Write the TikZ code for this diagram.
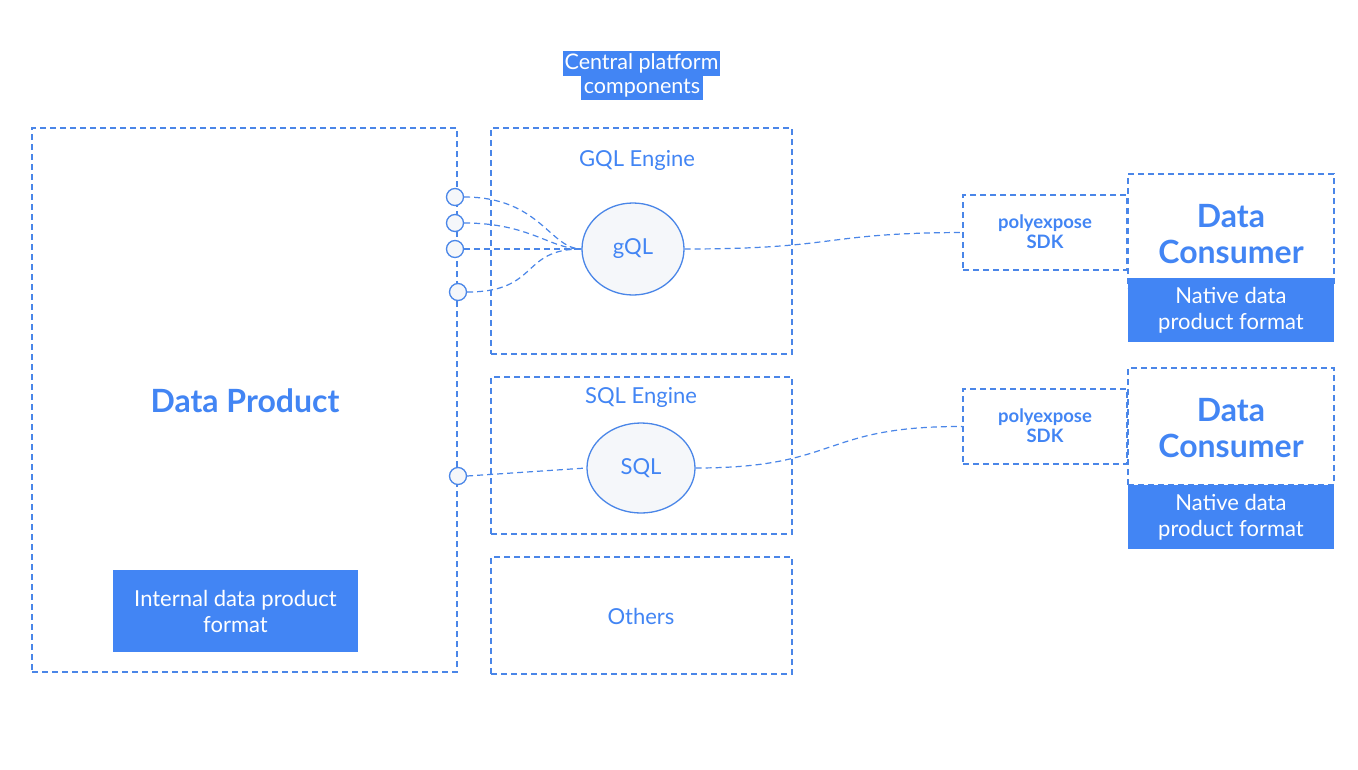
\documentclass[tikz,border=0pt]{standalone}
\usepackage{fontspec}
\setmainfont{Lato}
\usetikzlibrary{shapes.geometric}
\definecolor{gblue}{HTML}{4285F4}
\definecolor{lblue}{HTML}{4A86E8}
\definecolor{efill}{HTML}{F5F7FA}
\tikzset{
  dbox/.style={draw=lblue, line width=1.2pt, dash pattern=on 6pt off 4pt},
  dline/.style={draw=lblue, line width=1.2pt, dash pattern=on 6pt off 4pt},
  fillbox/.style={fill=gblue, draw=none, text=white, font=\fontsize{22}{26}\selectfont, align=center, inner sep=0pt},
  eng/.style={ellipse, draw=lblue, line width=1.3pt, fill=efill, text=gblue, font=\fontsize{22}{26}\selectfont, inner sep=0pt},
  port/.style={circle, draw=lblue, line width=1.3pt, fill=efill, minimum size=17pt, inner sep=0pt},
  lbl/.style={text=gblue, font=\fontsize{22}{26}\selectfont, align=center},
  big/.style={text=gblue, font=\fontsize{32}{36}\selectfont\bfseries, align=center},
  sdk/.style={text=gblue, font=\fontsize{18.5}{20}\selectfont\bfseries, align=center},
  cp/.style={fill=gblue, text=white, font=\fontsize{21.5}{25}\selectfont, inner sep=0pt},
}
\begin{document}
\begin{tikzpicture}[x=1pt,y=-1pt]
\useasboundingbox[fill=white] (0,0) rectangle (1358,769);
% title label
\node[cp, minimum width=157pt, minimum height=25pt] (cpl1) at (641.5,63.5) {Central platform};
\node[cp, minimum width=122pt, minimum height=24pt] (cpl2) at (642,88) {components};
% Data product
\node[dbox, minimum width=425pt, minimum height=544pt, inner sep=0pt] (dp) at (244.5,400) {};
\node[big] (dpt) at (245,401) {Data Product};
\node[fillbox, minimum width=245pt, minimum height=82pt] (idf) at (235.5,611) {Internal data product\\format};
% engines
\node[dbox, minimum width=301pt, minimum height=226pt, inner sep=0pt] (gqlbox) at (641.5,241) {};
\node[lbl] (gqlt) at (637,160) {GQL Engine};
\node[eng, minimum width=102pt, minimum height=92pt] (gql) at (633,249) {gQL};
\node[dbox, minimum width=301pt, minimum height=157pt, inner sep=0pt] (sqlbox) at (641.5,455.5) {};
\node[lbl] (sqlt) at (641,397) {SQL Engine};
\node[eng, minimum width=108pt, minimum height=90pt] (sql) at (641,468) {SQL};
\node[dbox, minimum width=301pt, minimum height=117pt, inner sep=0pt] (oth) at (641.5,615.5) {};
\node[lbl] (otht) at (641,616) {Others};
% ports
\node[port] (p1) at (455,197) {};
\node[port] (p2) at (455,223) {};
\node[port] (p3) at (455,249) {};
\node[port] (p4) at (458,292) {};
\node[port] (p5) at (458,476) {};
\draw[dline] (p1.east) .. controls (540,197) and (550,249) .. (gql.west);
\draw[dline] (p2.east) .. controls (530,223) and (550,249) .. (gql.west);
\draw[dline] (p3.east) -- (gql.west);
\draw[dline] (p4.east) .. controls (540,292) and (520,249) .. (gql.west);
\draw[dline] (p5.east) -- (sql.west);
% consumers
\node[dbox, minimum width=164pt, minimum height=75pt, inner sep=0pt] (sdk1) at (1045,232.5) {};
\node[sdk] (sdk1t) at (1045,232) {polyexpose\\SDK};
\node[dbox, minimum width=206pt, minimum height=114pt, inner sep=0pt] (dc1) at (1231,231) {};
\node[big] (dc1t) at (1231,234) {Data\\Consumer};
\node[fillbox, minimum width=206pt, minimum height=64pt] (nf1) at (1231,310) {Native data\\product format};
\node[dbox, minimum width=164pt, minimum height=75pt, inner sep=0pt] (sdk2) at (1045,426.5) {};
\node[sdk] (sdk2t) at (1045,426) {polyexpose\\SDK};
\node[dbox, minimum width=206pt, minimum height=117pt, inner sep=0pt] (dc2) at (1231,426.5) {};
\node[big] (dc2t) at (1231,428) {Data\\Consumer};
\node[fillbox, minimum width=206pt, minimum height=64pt] (nf2) at (1231,517) {Native data\\product format};
\draw[dline] (gql.east) .. controls (840,249) and (820,233) .. (sdk1.west);
\draw[dline] (sql.east) .. controls (840,468) and (820,426) .. (sdk2.west);
\end{tikzpicture}
\end{document}
